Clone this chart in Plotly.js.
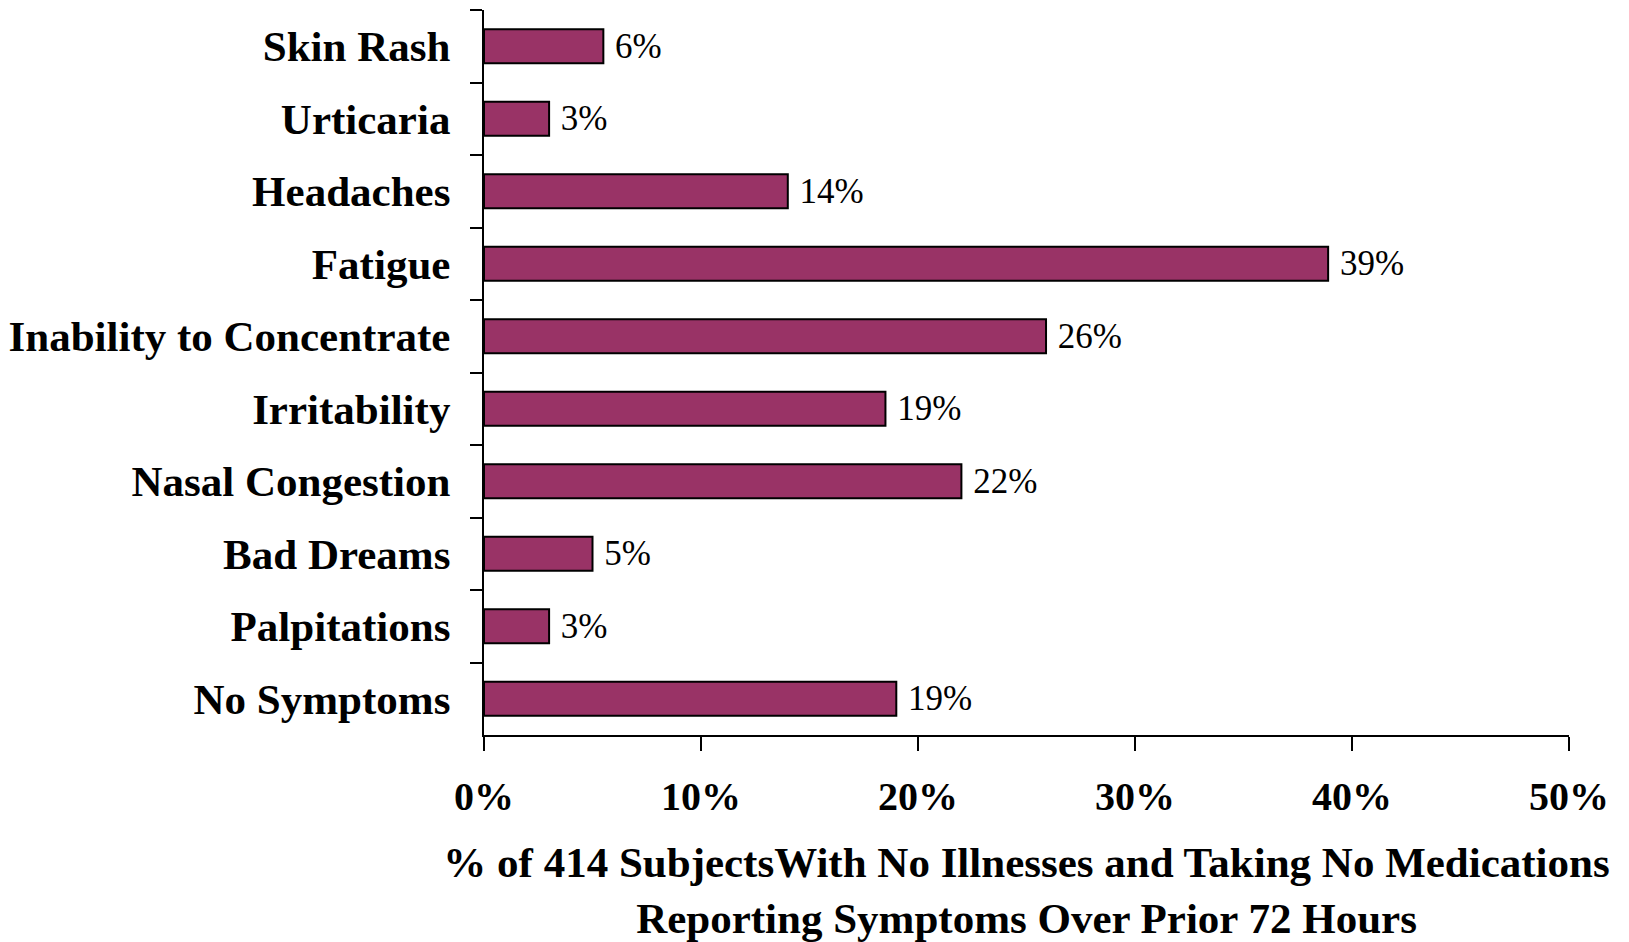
<!DOCTYPE html>
<html>
<head>
<meta charset="utf-8">
<script src="https://cdn.plot.ly/plotly-3.0.1.min.js"></script>
<style>
  html, body { margin: 0; padding: 0; background: #ffffff; }
  #chart { width: 1629px; height: 942px; }
</style>
</head>
<body>
<div id="chart"></div>
<script>
// Symptoms reported, listed top to bottom
const symptoms = [
  "Skin Rash",
  "Urticaria",
  "Headaches",
  "Fatigue",
  "Inability to Concentrate",
  "Irritability",
  "Nasal Congestion",
  "Bad Dreams",
  "Palpitations",
  "No Symptoms"
];

// Percent of subjects reporting each symptom
const percentReporting = [5.5, 3.0, 14.0, 38.9, 25.9, 18.5, 22.0, 5.0, 3.0, 19.0];

const xTickValues = [0, 10, 20, 30, 40, 50];
const xTickLabels = ["0%", "10%", "20%", "30%", "40%", "50%"];

const serif = "'Times New Roman', 'Liberation Serif', serif";

const trace = {
  type: "bar",
  orientation: "h",
  x: percentReporting,
  y: symptoms,
  marker: {
    color: "#993366",
    line: { color: "#000000", width: 2 }
  },
  texttemplate: "\u00a0%{x:.0f}%",
  textposition: "outside",
  constraintext: "none",
  cliponaxis: false,
  textfont: { family: serif, size: 35, color: "#000000" },
  hoverinfo: "skip"
};

const layout = {
  width: 1629,
  height: 942,
  margin: { l: 484, r: 60, t: 10, b: 207 },
  paper_bgcolor: "#ffffff",
  plot_bgcolor: "#ffffff",
  showlegend: false,
  bargap: 0.53,
  xaxis: {
    range: [0, 50],
    tickvals: xTickValues,
    ticktext: xTickLabels,
    ticks: "outside",
    ticklen: 14,
    tickwidth: 2,
    tickcolor: "#000000",
    showline: true,
    linecolor: "#000000",
    linewidth: 2,
    showgrid: false,
    zeroline: false,
    ticklabelstandoff: 11,
    tickfont: { family: serif, size: 40, color: "#000000", weight: "bold" },
    title: {
      text: "% of 414 SubjectsWith No Illnesses and Taking No Medications<br>Reporting Symptoms Over Prior 72 Hours",
      font: { family: serif, size: 43, color: "#000000", weight: "bold" },
      standoff: 29
    },
    automargin: false,
    fixedrange: true
  },
  yaxis: {
    type: "category",
    autorange: "reversed",
    tickson: "boundaries",
    ticks: "outside",
    ticklen: 12,
    tickwidth: 2,
    tickcolor: "#000000",
    showline: true,
    linecolor: "#000000",
    linewidth: 2,
    showgrid: false,
    zeroline: false,
    ticklabelstandoff: 23,
    tickfont: { family: serif, size: 43, color: "#000000", weight: "bold" },
    automargin: false,
    fixedrange: true
  }
};

Plotly.newPlot("chart", [trace], layout, { displayModeBar: false, staticPlot: true });
</script>
</body>
</html>
